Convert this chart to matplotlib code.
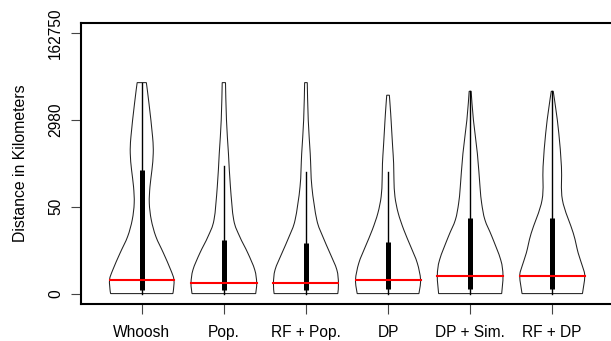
import numpy as np
import matplotlib
matplotlib.use("Agg")
import matplotlib.pyplot as plt
from matplotlib.path import Path
from matplotlib.patches import PathPatch

plt.rcParams['font.family'] = ['Liberation Sans', 'DejaVu Sans']

# categories and y axis (values are log(1 + km))
labels = ["Whoosh", "Pop.", "RF + Pop.", "DP", "DP + Sim.", "RF + DP"]
ytick_pos = [0, 4, 8, 12]
ytick_lab = ["0", "50", "2980", "162750"]

# violin outlines: level (log km) and relative density
lev_whoosh = [0, 0.1, 0.64, 1.10, 1.87, 2.63, 3.40, 4.17, 4.93, 5.70, 6.47, 7.23, 8.77, 9.73]
den_whoosh = [0.94, 0.96, 0.98, 0.88, 0.66, 0.43, 0.29, 0.23, 0.25, 0.31, 0.35, 0.33, 0.22, 0.14]
lev_pop = [0, 0.49, 1.10, 1.87, 2.64, 3.40, 4.93, 6.46, 8.0, 9.73]
den_pop = [0.97, 1.0, 0.94, 0.73, 0.48, 0.30, 0.20, 0.14, 0.08, 0.05]
lev_rfpop = [0, 0.48, 1.10, 1.87, 2.64, 3.40, 4.93, 6.46, 8.0, 9.73]
den_rfpop = [0.97, 0.99, 0.94, 0.73, 0.51, 0.33, 0.18, 0.13, 0.07, 0.04]
lev_dp = [0, 0.64, 1.41, 2.17, 2.94, 3.71, 4.47, 5.24, 6.0, 6.77, 7.54, 8.31, 9.15]
den_dp = [0.94, 0.99, 0.89, 0.69, 0.48, 0.31, 0.21, 0.18, 0.17, 0.14, 0.11, 0.08, 0.04]
lev_dpsim = [0, 0.83, 1.56, 2.64, 3.40, 4.17, 4.93, 6.46, 8.0, 9.33]
den_dpsim = [0.96, 1.0, 0.93, 0.66, 0.45, 0.35, 0.30, 0.22, 0.10, 0.03]
lev_rfdp = [0, 0.80, 1.26, 1.87, 2.79, 4.32, 5.85, 7.39, 8.5, 9.33]
den_rfdp = [0.92, 0.99, 0.92, 0.79, 0.64, 0.31, 0.28, 0.20, 0.11, 0.03]

levels = [lev_whoosh, lev_pop, lev_rfpop, lev_dp, lev_dpsim, lev_rfdp]
dens = [den_whoosh, den_pop, den_rfpop, den_dp, den_dpsim, den_rfdp]

# box stats
medians = [0.64, 0.49, 0.48, 0.64, 0.83, 0.83]
q1 = [0.18, 0.18, 0.18, 0.2, 0.2, 0.22]
q3 = [5.72, 2.48, 2.33, 2.36, 3.48, 3.48]
wlo = [0, 0, 0, 0, 0, 0]
whi = [9.73, 5.9, 5.6, 5.6, 9.33, 9.33]


def smooth_side(pts):
    # catmull-rom through the points, as bezier segments
    verts = [pts[0]]
    codes = []
    n = len(pts)
    for i in range(n - 1):
        p0 = pts[max(i - 1, 0)]
        p1 = pts[i]
        p2 = pts[i + 1]
        p3 = pts[min(i + 2, n - 1)]
        c1 = p1 + (p2 - p0) / 6.0
        c2 = p2 - (p3 - p1) / 6.0
        verts += [c1, c2, p2]
        codes += [Path.CURVE4] * 3
    return verts, codes


fig = plt.figure(figsize=(6.11, 3.41), dpi=100)
ax = fig.add_axes([81 / 611, 37 / 341, 532 / 611, 281 / 341])
ax.set_xlim(0.26, 6.74)
ax.set_ylim(-0.48, 12.48)

for i in range(len(labels)):
    x0 = i + 1
    lv = np.array(levels[i], dtype=float)
    hw = np.array(dens[i], dtype=float) * 0.4
    right = np.column_stack([x0 + hw, lv])
    left = np.column_stack([x0 - hw, lv])[::-1]
    rv, rc = smooth_side(right)
    lvv, lc = smooth_side(left)
    verts = rv + lvv + [rv[0]]
    codes = [Path.MOVETO] + rc + [Path.LINETO] + lc + [Path.CLOSEPOLY]
    ax.add_patch(PathPatch(Path(verts, codes), facecolor="white",
                           edgecolor="#222222", lw=0.75, zorder=2))
    ax.plot([x0, x0], [wlo[i], whi[i]], color="black", lw=1.0, zorder=3)
    ax.plot([x0, x0], [q1[i], q3[i]], color="black", lw=3.6,
            solid_capstyle="butt", zorder=3)
    mw = np.interp(medians[i], lv, hw)
    ax.plot([x0 - mw, x0 + mw], [medians[i], medians[i]], color="red",
            lw=1.5, zorder=4)

ax.set_xticks(range(1, len(labels) + 1))
ax.set_xticklabels(labels, fontsize=11.2)
ax.set_yticks(ytick_pos)
ax.set_yticklabels(ytick_lab, fontsize=11.2, rotation=90, va="center")
ax.tick_params(axis="both", length=7, width=0.8, color="#444444")
ax.tick_params(axis="x", pad=8)
ax.tick_params(axis="y", pad=6)
ax.set_ylabel("Distance in Kilometers", fontsize=11.4, labelpad=14)

for s in ["left", "top", "bottom", "right"]:
    ax.spines[s].set_linewidth(1.5)

fig.savefig("out.png", dpi=100)
